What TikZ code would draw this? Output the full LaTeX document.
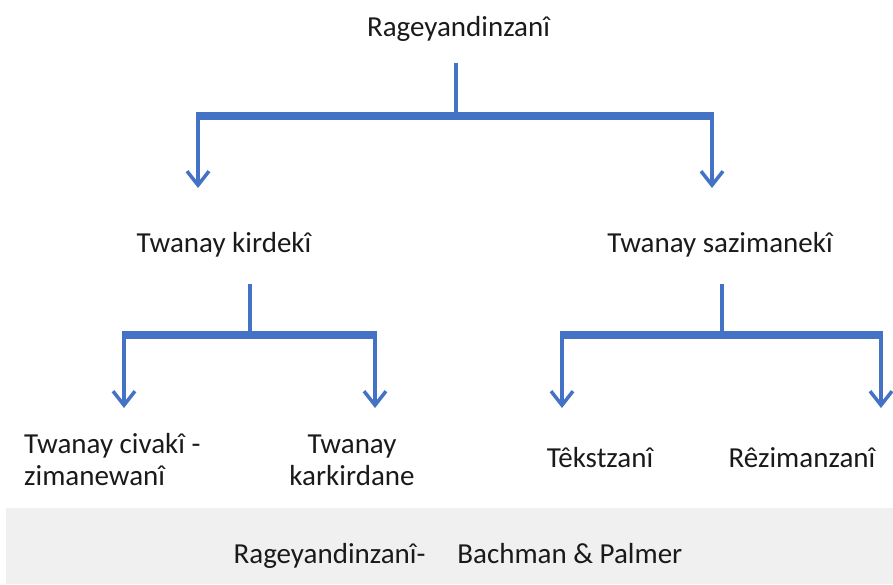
\documentclass[tikz,border=0pt]{standalone}
\usepackage{fontspec}
\setmainfont{Carlito}
\usetikzlibrary{arrows.meta}
\definecolor{lineblue}{HTML}{4472C4}
\definecolor{boxgray}{HTML}{F0F0F0}
\definecolor{txt}{HTML}{1A1A1A}
\tikzset{
  lab/.style={font=\fontsize{29}{32}\selectfont, text=txt, inner sep=0pt, anchor=base},
  stem/.style={draw=lineblue, line width=3.5pt},
  bar/.style={draw=lineblue, line width=7.5pt},
  arr/.style={draw=lineblue, line width=3.5pt, -{Straight Barb[length=14pt,width=22pt,line width=3.5pt]}}
}
\begin{document}
\begin{tikzpicture}[x=1pt,y=-1pt]
\useasboundingbox (0,0) rectangle (893,585);
\fill[boxgray] (6,508) rectangle (893,584);
% nodes
\node[lab] (root) at (458.5,37) {Rageyandinzanî};
\node[lab] (kird) at (224,252) {Twanay kirdekî};
\node[lab] (sazi) at (720,252) {Twanay sazimanekî};
\node[lab, anchor=base west] (civ1) at (24,453) {Twanay civakî -};
\node[lab, anchor=base west] (civ2) at (24,485) {zimanewanî};
\node[lab] (kark1) at (352,453) {Twanay};
\node[lab] (kark2) at (352,485) {karkirdane};
\node[lab] (tekst) at (600,467) {Têkstzanî};
\node[lab] (rezi) at (802,467) {Rêzimanzanî};
\node[lab] (src) at (458,563) {Rageyandinzanî-\hspace{1.1em}Bachman \& Palmer};
% coordinates
\coordinate (r1) at (456,63);
\coordinate (r2) at (456,113);
\coordinate (rL) at (198,116);
\coordinate (rR) at (712,116);
\coordinate (rLa) at (198,188);
\coordinate (rRa) at (712,188);
\coordinate (k1) at (250,284);
\coordinate (k2) at (250,332);
\coordinate (kL) at (124,335);
\coordinate (kR) at (375,335);
\coordinate (kLa) at (124,408);
\coordinate (kRa) at (375,408);
\coordinate (s1) at (722,284);
\coordinate (s2) at (722,332);
\coordinate (sL) at (562,335);
\coordinate (sR) at (881,335);
\coordinate (sLa) at (562,408);
\coordinate (sRa) at (881,408);
% connectors
\draw[stem] (r1) -- (r2);
\draw[bar] ([xshift=-1.75pt]rL) -- ([xshift=1.75pt]rR);
\draw[arr] (rL) -- (rLa);
\draw[arr] (rR) -- (rRa);
\draw[stem] (k1) -- (k2);
\draw[bar] ([xshift=-1.75pt]kL) -- ([xshift=1.75pt]kR);
\draw[arr] (kL) -- (kLa);
\draw[arr] (kR) -- (kRa);
\draw[stem] (s1) -- (s2);
\draw[bar] ([xshift=-1.75pt]sL) -- ([xshift=1.75pt]sR);
\draw[arr] (sL) -- (sLa);
\draw[arr] (sR) -- (sRa);
\end{tikzpicture}
\end{document}
